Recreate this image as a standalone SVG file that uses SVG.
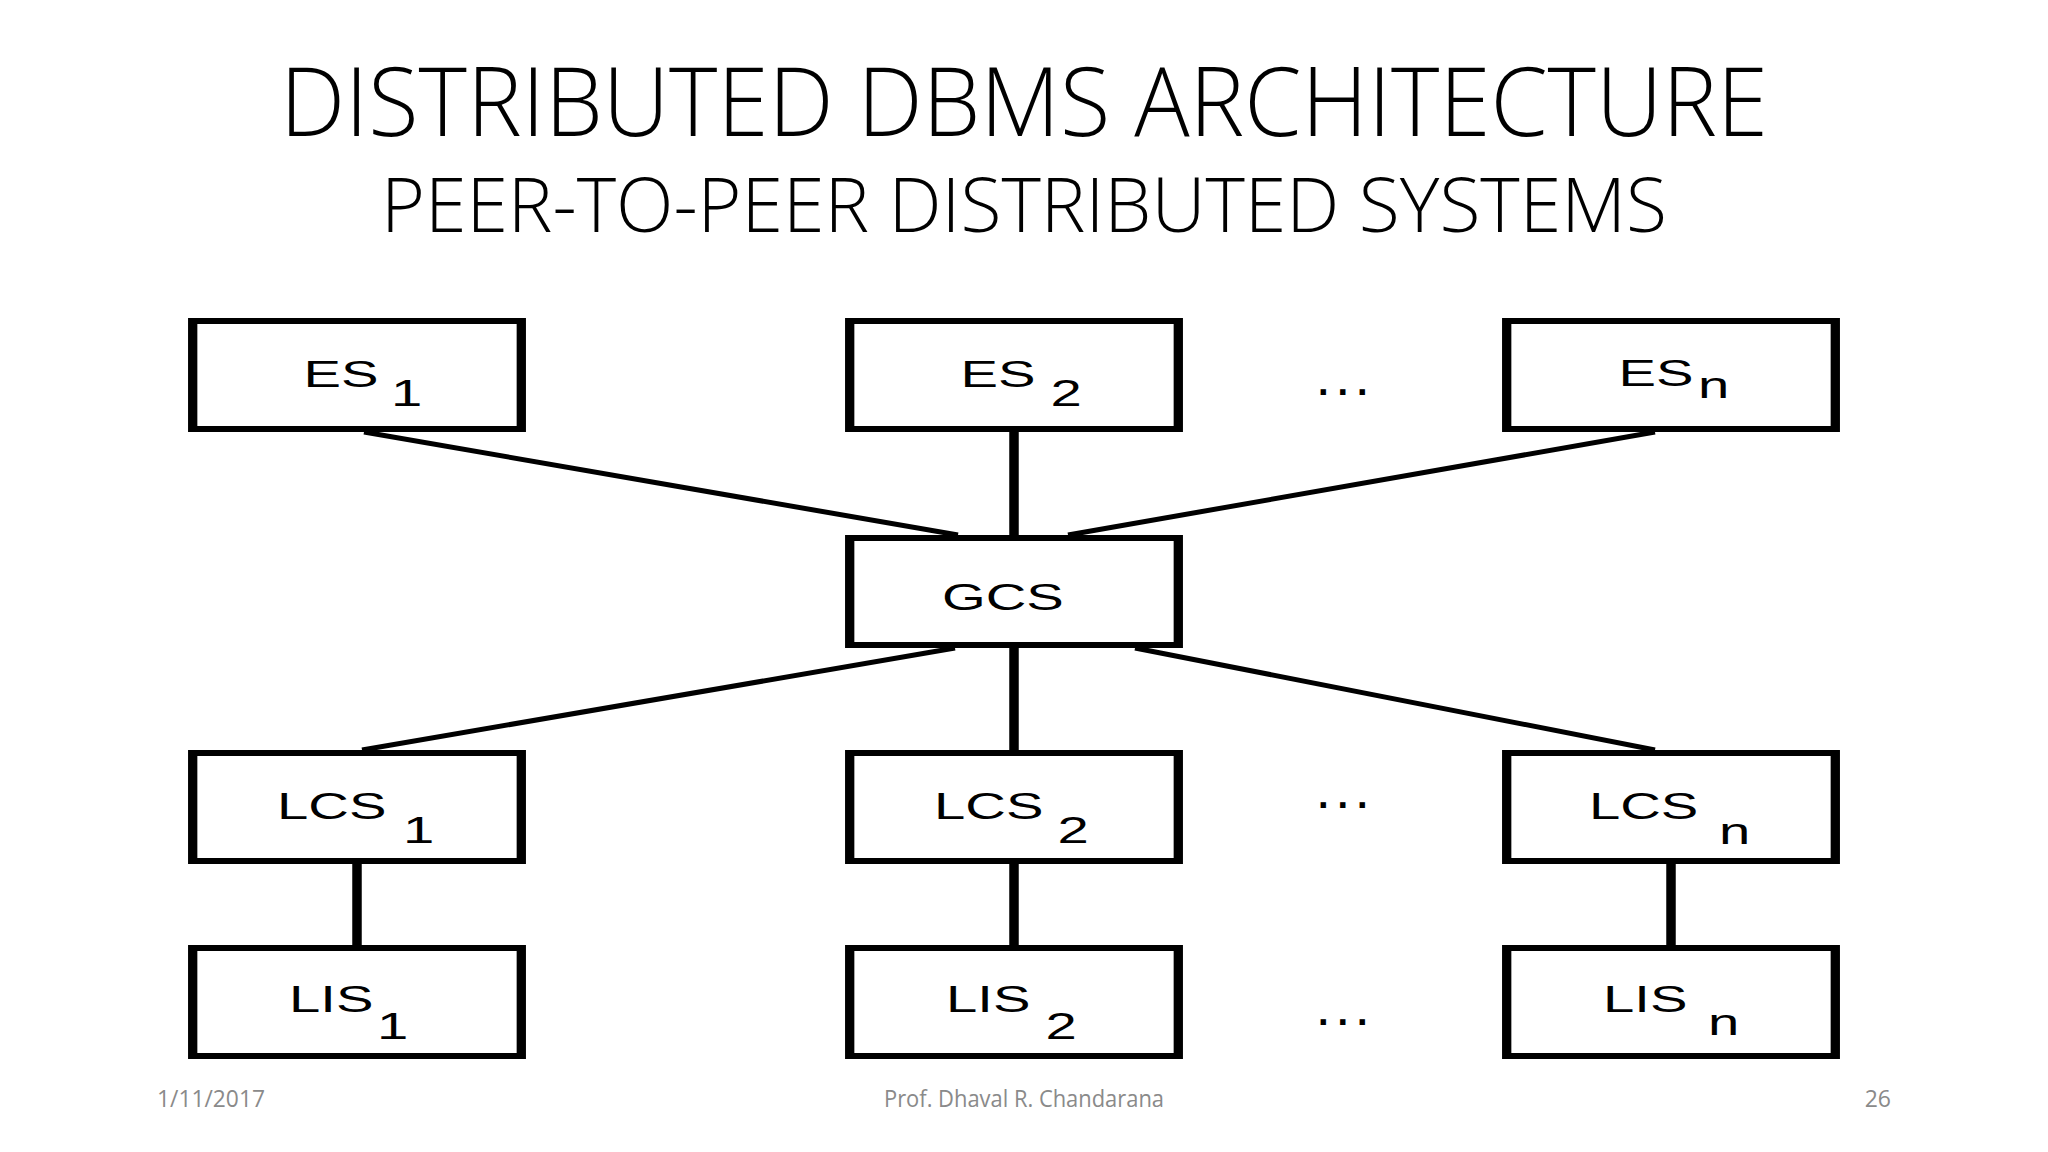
<svg xmlns="http://www.w3.org/2000/svg" width="2048" height="1152" viewBox="0 0 2048 1152">
  <style>
    .title { font-family: "Open Sans", "Liberation Sans", sans-serif; font-weight: 300; fill: #000; }
    .foot { font-family: "Open Sans", "Liberation Sans", sans-serif; font-size: 23px; fill: #8a8a8a; }
    .box { fill: #fff; stroke: #000; stroke-width: 6; }
    .lbl { font-family: "Liberation Sans", Arial, sans-serif; font-size: 37.5px; fill: #000; }
    .diag { stroke: #000; stroke-width: 5; fill: none; }
    .vert { stroke: #000; stroke-width: 9.5; fill: none; }
    .dots { font-family: "Liberation Sans", Arial, sans-serif; font-size: 38px; font-weight: bold; fill: #000; letter-spacing: 9px; }
  </style>
  <rect width="2048" height="1152" fill="#fff"/>

  <g id="titles">
    <text class="title" x="1024" y="136" font-size="95" text-anchor="middle" textLength="1488" lengthAdjust="spacingAndGlyphs">DISTRIBUTED DBMS ARCHITECTURE</text>
    <text class="title" x="1024" y="232" font-size="76" text-anchor="middle" textLength="1286" lengthAdjust="spacingAndGlyphs">PEER-TO-PEER DISTRIBUTED SYSTEMS</text>
  </g>

  <g id="connectors">
    <line class="diag" x1="364" y1="432" x2="958" y2="535"/>
    <line class="vert" x1="1014" y1="432" x2="1014" y2="535"/>
    <line class="diag" x1="1655" y1="432" x2="1068" y2="535"/>
    <line class="diag" x1="955" y1="648" x2="362" y2="750"/>
    <line class="vert" x1="1014" y1="648" x2="1014" y2="750"/>
    <line class="diag" x1="1135" y1="648" x2="1655" y2="750"/>
    <line class="vert" x1="357" y1="864" x2="357" y2="945"/>
    <line class="vert" x1="1014" y1="864" x2="1014" y2="945"/>
    <line class="vert" x1="1671" y1="864" x2="1671" y2="945"/>
  </g>

  <g id="es1" transform="translate(357,375)">
    <rect class="box" x="-106" y="-54" width="212" height="108" transform="scale(1.55,1)"/>
    <g transform="scale(1.5,1)"><text class="lbl" x="-35.7" y="11.5">ES</text><text class="lbl" x="22.7" y="31">1</text></g>
  </g>
  <g id="es2" transform="translate(1014,375)">
    <rect class="box" x="-106" y="-54" width="212" height="108" transform="scale(1.55,1)"/>
    <g transform="scale(1.5,1)"><text class="lbl" x="-35.7" y="11.5">ES</text><text class="lbl" x="24.3" y="31">2</text></g>
  </g>
  <g id="esn" transform="translate(1671,375)">
    <rect class="box" x="-106" y="-54" width="212" height="108" transform="scale(1.55,1)"/>
    <g transform="scale(1.5,1)"><text class="lbl" x="-35" y="10.5">ES</text><text class="lbl" x="18" y="23">n</text></g>
  </g>
  <g id="gcs" transform="translate(1014,591.5)">
    <rect class="box" x="-106" y="-53.5" width="212" height="107" transform="scale(1.55,1)"/>
    <g transform="scale(1.5,1)"><text class="lbl" x="-48" y="18.5">GCS</text></g>
  </g>
  <g id="lcs1" transform="translate(357,807)">
    <rect class="box" x="-106" y="-54" width="212" height="108" transform="scale(1.55,1)"/>
    <g transform="scale(1.5,1)"><text class="lbl" x="-53.3" y="12">LCS</text><text class="lbl" x="30.7" y="36">1</text></g>
  </g>
  <g id="lcs2" transform="translate(1014,807)">
    <rect class="box" x="-106" y="-54" width="212" height="108" transform="scale(1.55,1)"/>
    <g transform="scale(1.5,1)"><text class="lbl" x="-53.3" y="12">LCS</text><text class="lbl" x="29" y="36">2</text></g>
  </g>
  <g id="lcsn" transform="translate(1671,807)">
    <rect class="box" x="-106" y="-54" width="212" height="108" transform="scale(1.55,1)"/>
    <g transform="scale(1.5,1)"><text class="lbl" x="-54.7" y="12">LCS</text><text class="lbl" x="32" y="37">n</text></g>
  </g>
  <g id="lis1" transform="translate(357,1002)">
    <rect class="box" x="-106" y="-54" width="212" height="108" transform="scale(1.55,1)"/>
    <g transform="scale(1.5,1)"><text class="lbl" x="-45.3" y="10">LIS</text><text class="lbl" x="13.3" y="37">1</text></g>
  </g>
  <g id="lis2" transform="translate(1014,1002)">
    <rect class="box" x="-106" y="-54" width="212" height="108" transform="scale(1.55,1)"/>
    <g transform="scale(1.5,1)"><text class="lbl" x="-45.3" y="10">LIS</text><text class="lbl" x="21" y="37">2</text></g>
  </g>
  <g id="lisn" transform="translate(1671,1002)">
    <rect class="box" x="-106" y="-54" width="212" height="108" transform="scale(1.55,1)"/>
    <g transform="scale(1.5,1)"><text class="lbl" x="-45.3" y="10">LIS</text><text class="lbl" x="24.7" y="33">n</text></g>
  </g>

  <g id="ellipses">
    <text class="dots" x="1318" y="395">...</text>
    <text class="dots" x="1318" y="808">...</text>
    <text class="dots" x="1318" y="1025">...</text>
  </g>

  <g id="footer">
    <text class="foot" x="157" y="1107" textLength="108" lengthAdjust="spacingAndGlyphs">1/11/2017</text>
    <text class="foot" x="1024" y="1107" text-anchor="middle" textLength="280" lengthAdjust="spacingAndGlyphs">Prof. Dhaval R. Chandarana</text>
    <text class="foot" x="1891" y="1107" text-anchor="end">26</text>
  </g>
</svg>
